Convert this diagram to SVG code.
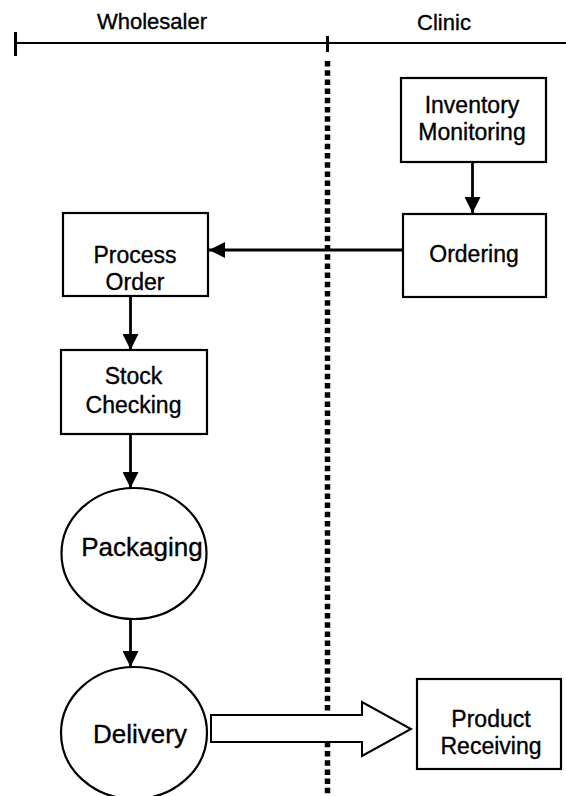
<svg xmlns="http://www.w3.org/2000/svg" width="566" height="796" viewBox="0 0 566 796">
  <style>
    .box { fill: #fff; stroke: #000; stroke-width: 2.2; }
    .lbl { font-family: "Liberation Sans", Arial, sans-serif; font-size: 23px; fill: #000; stroke: #000; stroke-width: 0.35; text-anchor: middle; }
    .big { font-size: 26px; }
    .hdr { font-size: 22px; }
    .flow { stroke: #000; stroke-width: 2.8; fill: none; marker-end: url(#head); }
  </style>
  <defs>
    <marker id="head" viewBox="0 0 16 16" refX="16" refY="8" markerWidth="16" markerHeight="16" markerUnits="userSpaceOnUse" orient="auto">
      <path d="M0,0 L16,8 L0,16 z" fill="#000"/>
    </marker>
  </defs>

  <rect width="566" height="796" fill="#fff"/>

  <!-- swimlane headers and divider -->
  <g id="lanes">
    <text class="lbl hdr" x="152" y="29">Wholesaler</text>
    <text class="lbl hdr" x="444" y="30">Clinic</text>
    <line x1="15" y1="43" x2="566" y2="43" stroke="#000" stroke-width="2"/>
    <line x1="15.5" y1="32" x2="15.5" y2="56" stroke="#000" stroke-width="3"/>
    <line x1="327.5" y1="36" x2="327.5" y2="52" stroke="#000" stroke-width="3"/>
    <line x1="327.5" y1="61" x2="327.5" y2="796" stroke="#000" stroke-width="5.5" stroke-dasharray="5.5 3.7"/>
  </g>

  <!-- connectors -->
  <g id="connectors">
    <line class="flow" x1="472.5" y1="162" x2="472.5" y2="213"/>
    <line class="flow" x1="403" y1="250" x2="209" y2="250"/>
    <line class="flow" x1="130.5" y1="296" x2="130.5" y2="350"/>
    <line class="flow" x1="130.5" y1="434" x2="130.5" y2="488"/>
    <line class="flow" x1="130.5" y1="619" x2="130.5" y2="667"/>
    <polygon points="211,715 362,715 362,702 411,729 362,756 362,742 211,742" fill="#fff" stroke="#000" stroke-width="2"/>
  </g>

  <g id="inventory-monitoring">
    <rect class="box" x="401" y="78" width="145" height="84"/>
    <text class="lbl" x="472" y="113">Inventory</text>
    <text class="lbl" x="472" y="140">Monitoring</text>
  </g>

  <g id="ordering">
    <rect class="box" x="403" y="214" width="143" height="83"/>
    <text class="lbl" x="474" y="262">Ordering</text>
  </g>

  <g id="process-order">
    <rect class="box" x="63" y="213" width="145" height="83"/>
    <text class="lbl" x="135" y="263">Process</text>
    <text class="lbl" x="135" y="290">Order</text>
  </g>

  <g id="stock-checking">
    <rect class="box" x="61" y="350" width="146" height="84"/>
    <text class="lbl" x="133.5" y="384">Stock</text>
    <text class="lbl" x="133.5" y="412.5">Checking</text>
  </g>

  <g id="packaging">
    <ellipse class="box" cx="134" cy="553.5" rx="72.5" ry="65.5"/>
    <text class="lbl big" x="142" y="556">Packaging</text>
  </g>

  <g id="delivery">
    <ellipse class="box" cx="134" cy="733" rx="73" ry="66"/>
    <text class="lbl big" x="140" y="743">Delivery</text>
  </g>

  <g id="product-receiving">
    <rect class="box" x="417" y="679" width="144" height="90"/>
    <text class="lbl" x="491" y="727">Product</text>
    <text class="lbl" x="491" y="754">Receiving</text>
  </g>
</svg>
